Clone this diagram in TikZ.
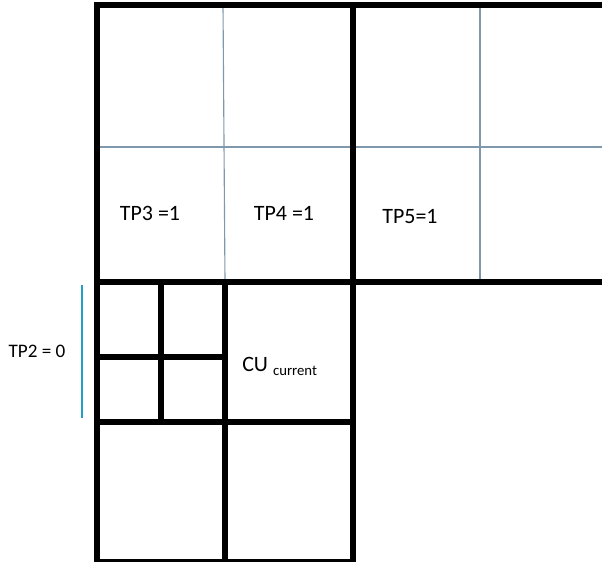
\documentclass[tikz,border=0pt]{standalone}
\usepackage{fontspec}
\setmainfont{Carlito}
\usetikzlibrary{positioning}
\usepackage{xcolor}
\definecolor{pugray}{RGB}{128,152,172}
\definecolor{tpblue}{RGB}{35,158,200}
\tikzset{
    cuedge/.style={
        line width=3.7pt,draw=black,line join=miter
    },
    puedge/.style={
        line width=0.8pt,draw=pugray
    },
    tpmark/.style={
        line width=1.4pt,draw=tpblue
    },
    tplabel/.style={
        inner sep=0pt,text=black,font=\fontsize{15.6}{18}\selectfont
    }
}

\begin{document}
\begin{tikzpicture}[x=0.025cm,y=-0.025cm]
\useasboundingbox (0,0) rectangle (602,561);

% thin PU splits of the upper CUs
\draw[puedge] (223,5)--(225,282);
\draw[puedge] (480,5)--(480,282);
\draw[puedge] (97,147)--(602,147);

% thick CU borders
\draw[cuedge] (602,5)--(97,5)--(97,565);
\draw[cuedge] (353,5)--(353,565);
\draw[cuedge] (97,282)--(602,282);
\draw[cuedge] (97,561.5)--(353,561.5);
\draw[line width=4.8pt] (230,5)--(248,5);

% lower left quad-tree
\draw[cuedge] (225,282)--(225,565);
\draw[cuedge] (97,422)--(353,422);
\draw[cuedge] (161,282)--(161,422);
\draw[cuedge] (97,357)--(222,357);

% labels
\node[tplabel] (tp3) at (150,213) {TP3 =1};
\node[tplabel] (tp4) at (284,213) {TP4 =1};
\node[tplabel] (tp5) at (410,217) {TP5=1};
\node[tplabel,font=\fontsize{13.6}{15}\selectfont] (tp2) at (37,351) {TP2 = 0};
\node[tplabel,anchor=base west] (cu) at (242,371)
{CU \raisebox{-3pt}{\fontsize{10.5}{12}\selectfont current}};

\coordinate (mtop) at (82,285);
\coordinate (mbot) at (82,418);
\draw[tpmark] (mtop)--(mbot);

\end{tikzpicture}
\end{document}
